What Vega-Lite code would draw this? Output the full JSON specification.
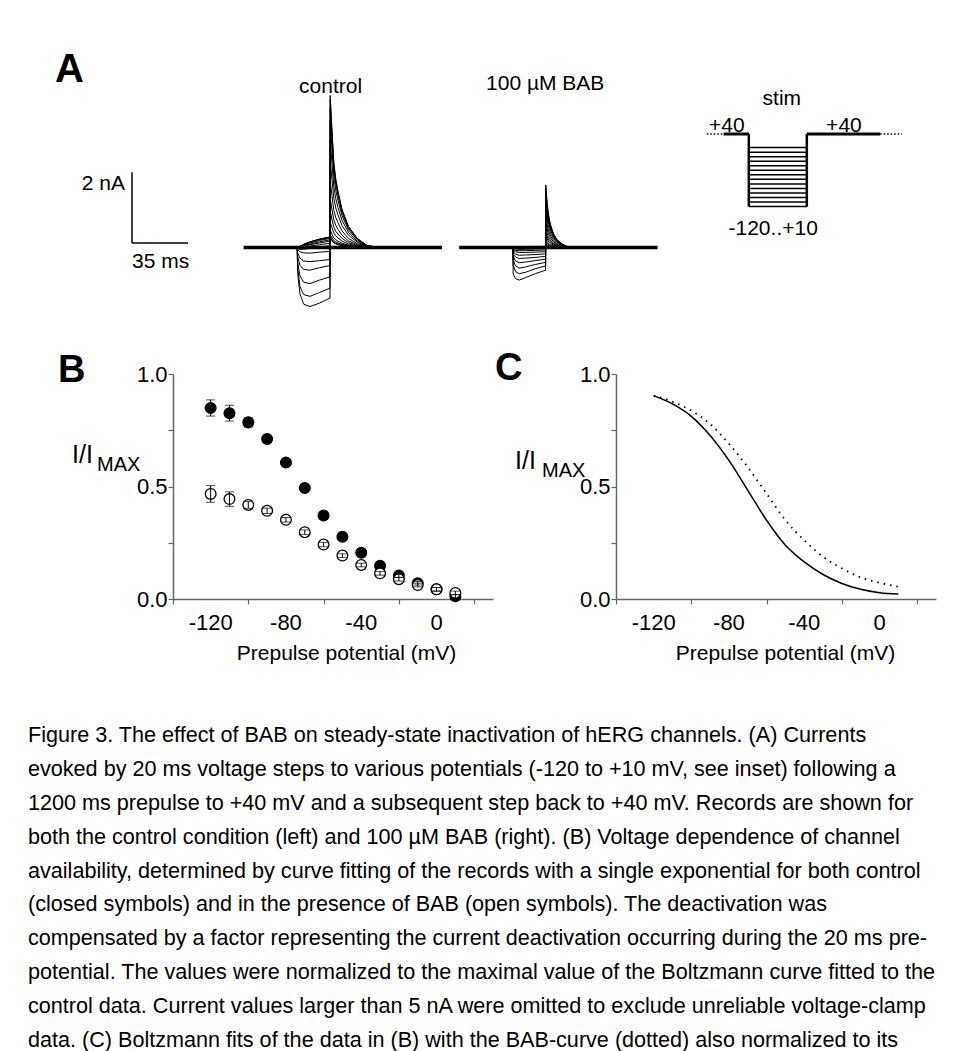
{
  "$schema": "https://vega.github.io/schema/vega-lite/v6.json",
  "background": "white",
  "padding": {"left": 28, "top": 7, "right": 4, "bottom": 4},
  "spacing": 41,
  "config": {
    "view": {"stroke": null},
    "font": "Liberation Sans",
    "axis": {"domainColor": "#666666", "tickColor": "#666666", "labelColor": "#000000", "titleColor": "#000000", "labelFont": "Liberation Sans", "titleFont": "Liberation Sans", "labelFontSize": 22, "titleFontSize": 21, "titleFontWeight": "normal", "grid": false, "domainWidth": 1.5, "tickWidth": 1.2, "tickSize": 5},
    "title": {"font": "Liberation Sans", "color": "#000000"}
  },
  "vconcat": [
    {
      "bounds": "flush",
      "spacing": 16.6,
      "hconcat": [
        {
          "width": 198.4, "height": 246,
          "data": {"values": [{}]},
          "layer": [
            {"mark": {"type": "rule", "strokeWidth": 1.5, "color": "black"},
             "encoding": {"x": {"datum": 65, "type": "quantitative", "scale": {"domain": [0, 124], "nice": false, "zero": false}, "axis": null},
                          "x2": {"datum": 100},
                          "y": {"datum": 0.13, "type": "quantitative", "scale": {"domain": [-0.155, 6.8], "nice": false, "zero": false}, "axis": null}}},
            {"mark": {"type": "rule", "strokeWidth": 1.5, "color": "black"},
             "encoding": {"x": {"datum": 65, "type": "quantitative"}, "y": {"datum": 0.13, "type": "quantitative"}, "y2": {"datum": 2.13}}},
            {"mark": {"type": "text", "align": "left", "baseline": "alphabetic", "fontSize": 40, "fontWeight": "bold", "color": "black"},
             "encoding": {"x": {"datum": 16.9, "type": "quantitative"}, "y": {"datum": 4.68, "type": "quantitative"}, "text": {"value": "A"}}},
            {"mark": {"type": "text", "align": "right", "baseline": "alphabetic", "fontSize": 21, "color": "black"},
             "encoding": {"x": {"datum": 60.6, "type": "quantitative"}, "y": {"datum": 1.62, "type": "quantitative"}, "text": {"value": "2 nA"}}},
            {"mark": {"type": "text", "align": "left", "baseline": "alphabetic", "fontSize": 21, "color": "black"},
             "encoding": {"x": {"datum": 65, "type": "quantitative"}, "y": {"datum": -0.58, "type": "quantitative"}, "text": {"value": "35 ms"}}}
          ]
        },
        {
          "width": 198.4, "height": 246,
          "layer": [
            {"data": {"values": [{"t": 0, "i": 0}, {"t": 124, "i": 0}]},
             "mark": {"type": "line", "strokeWidth": 3.5, "color": "black"},
             "encoding": {"x": {"field": "t", "type": "quantitative", "scale": {"domain": [0, 124], "nice": false, "zero": false}, "axis": null},
                          "y": {"field": "i", "type": "quantitative", "scale": {"domain": [-0.155, 6.8], "nice": false, "zero": false}, "axis": null}}},
            {"data": {"values": "v,t,i\n-120,33.5,0\n-120,33.75,-0.7\n-120,35.2,-1.3\n-120,37.5,-1.6\n-120,41.5,-1.67\n-120,47.5,-1.57\n-120,54,-1.43\n-120,54.1,4.3\n-120,54.5,3.96\n-120,55.2,3.35\n-120,56.4,2.41\n-120,57.6,1.94\n-120,59,1.59\n-120,61.5,1.08\n-120,65.5,0.6\n-120,71,0.26\n-120,77,0.06\n-120,84,0\n-110,33.5,0\n-110,33.75,-0.55\n-110,35.2,-1.1\n-110,37.5,-1.33\n-110,41.5,-1.38\n-110,47.5,-1.27\n-110,54,-1.15\n-110,54.1,4.18\n-110,54.5,3.85\n-110,55.2,3.26\n-110,56.4,2.34\n-110,57.6,1.88\n-110,59,1.55\n-110,61.5,1.05\n-110,65.5,0.59\n-110,71,0.25\n-110,77,0.06\n-110,84,0\n-100,33.5,0\n-100,33.75,-0.4\n-100,35.2,-0.8\n-100,37.5,-0.98\n-100,41.5,-1.02\n-100,47.5,-0.92\n-100,54,-0.83\n-100,54.1,3.95\n-100,54.5,3.63\n-100,55.2,3.08\n-100,56.4,2.21\n-100,57.6,1.78\n-100,59,1.46\n-100,61.5,0.99\n-100,65.5,0.55\n-100,71,0.24\n-100,77,0.06\n-100,84,0\n-90,33.5,0\n-90,33.75,-0.25\n-90,35.2,-0.5\n-90,37.5,-0.62\n-90,41.5,-0.64\n-90,47.5,-0.57\n-90,54,-0.51\n-90,54.1,3.59\n-90,54.5,3.3\n-90,55.2,2.8\n-90,56.4,2.01\n-90,57.6,1.62\n-90,59,1.33\n-90,61.5,0.9\n-90,65.5,0.5\n-90,71,0.22\n-90,77,0.05\n-90,84,0\n-80,33.5,0\n-80,33.75,-0.15\n-80,35.2,-0.3\n-80,37.5,-0.38\n-80,41.5,-0.4\n-80,47.5,-0.37\n-80,54,-0.34\n-80,54.1,3.06\n-80,54.5,2.82\n-80,55.2,2.39\n-80,56.4,1.71\n-80,57.6,1.38\n-80,59,1.13\n-80,61.5,0.77\n-80,65.5,0.43\n-80,71,0.18\n-80,77,0.05\n-80,84,0\n-70,33.5,0\n-70,33.75,-0.06\n-70,35.2,-0.12\n-70,37.5,-0.15\n-70,41.5,-0.16\n-70,47.5,-0.13\n-70,54,-0.11\n-70,54.1,2.48\n-70,54.5,2.28\n-70,55.2,1.93\n-70,56.4,1.39\n-70,57.6,1.12\n-70,59,0.92\n-70,61.5,0.62\n-70,65.5,0.35\n-70,71,0.15\n-70,77,0.04\n-70,84,0\n-60,33.5,0\n-60,33.75,-0.03\n-60,35.2,-0.05\n-60,37.5,-0.05\n-60,41.5,-0.02\n-60,47.5,0.02\n-60,54,0.05\n-60,54.1,1.88\n-60,54.5,1.73\n-60,55.2,1.47\n-60,56.4,1.05\n-60,57.6,0.85\n-60,59,0.7\n-60,61.5,0.47\n-60,65.5,0.26\n-60,71,0.11\n-60,77,0.03\n-60,84,0\n-50,33.5,0\n-50,33.75,-0.02\n-50,35.2,-0.02\n-50,37.5,0\n-50,41.5,0.04\n-50,47.5,0.08\n-50,54,0.12\n-50,54.1,1.39\n-50,54.5,1.28\n-50,55.2,1.08\n-50,56.4,0.78\n-50,57.6,0.63\n-50,59,0.51\n-50,61.5,0.35\n-50,65.5,0.19\n-50,71,0.08\n-50,77,0.02\n-50,84,0\n-40,33.5,0\n-40,33.75,-0.02\n-40,35.2,0\n-40,37.5,0.03\n-40,41.5,0.08\n-40,47.5,0.13\n-40,54,0.18\n-40,54.1,1.03\n-40,54.5,0.95\n-40,55.2,0.8\n-40,56.4,0.58\n-40,57.6,0.46\n-40,59,0.38\n-40,61.5,0.26\n-40,65.5,0.14\n-40,71,0.06\n-40,77,0.02\n-40,84,0\n-30,33.5,0\n-30,33.75,-0.02\n-30,35.2,0.01\n-30,37.5,0.05\n-30,41.5,0.1\n-30,47.5,0.16\n-30,54,0.22\n-30,54.1,0.73\n-30,54.5,0.67\n-30,55.2,0.57\n-30,56.4,0.41\n-30,57.6,0.33\n-30,59,0.27\n-30,61.5,0.18\n-30,65.5,0.1\n-30,71,0.04\n-30,77,0.01\n-30,84,0\n-20,33.5,0\n-20,33.75,-0.02\n-20,35.2,0.02\n-20,37.5,0.07\n-20,41.5,0.13\n-20,47.5,0.2\n-20,54,0.26\n-20,54.1,0.49\n-20,54.5,0.45\n-20,55.2,0.38\n-20,56.4,0.27\n-20,57.6,0.22\n-20,59,0.18\n-20,61.5,0.12\n-20,65.5,0.07\n-20,71,0.03\n-20,77,0.01\n-20,84,0\n-10,33.5,0\n-10,33.75,-0.02\n-10,35.2,0.03\n-10,37.5,0.08\n-10,41.5,0.15\n-10,47.5,0.23\n-10,54,0.29\n-10,54.1,0.36\n-10,54.5,0.33\n-10,55.2,0.28\n-10,56.4,0.2\n-10,57.6,0.16\n-10,59,0.13\n-10,61.5,0.09\n-10,65.5,0.05\n-10,71,0.02\n-10,77,0.01\n-10,84,0\n0,33.5,0\n0,33.75,-0.02\n0,35.2,0.03\n0,37.5,0.09\n0,41.5,0.16\n0,47.5,0.24\n0,54,0.3\n0,54.1,0.32\n0,54.5,0.28\n0,55.2,0.22\n0,56.4,0.16\n0,57.6,0.12\n0,59,0.1\n0,61.5,0.07\n0,65.5,0.04\n0,71,0.02\n0,77,0\n0,84,0\n10,33.5,0\n10,33.75,-0.02\n10,35.2,0.03\n10,37.5,0.09\n10,41.5,0.16\n10,47.5,0.23\n10,54,0.29\n10,54.1,0.3\n10,54.5,0.25\n10,55.2,0.19\n10,56.4,0.13\n10,57.6,0.1\n10,59,0.08\n10,61.5,0.05\n10,65.5,0.03\n10,71,0.01\n10,77,0\n10,84,0", "format": {"type": "csv", "parse": {"v": "number", "t": "number", "i": "number"}}},
             "mark": {"type": "line", "strokeWidth": 1, "color": "black"},
             "encoding": {"x": {"field": "t", "type": "quantitative"}, "y": {"field": "i", "type": "quantitative"}, "detail": {"field": "v", "type": "nominal"}}},
            {"data": {"values": [{}]},
             "mark": {"type": "text", "align": "center", "baseline": "alphabetic", "fontSize": 21, "color": "black"},
             "encoding": {"x": {"datum": 54.4, "type": "quantitative"}, "y": {"datum": 4.37, "type": "quantitative"}, "text": {"value": "control"}}}
          ]
        },
        {
          "width": 198.4, "height": 246,
          "layer": [
            {"data": {"values": [{"t": 0, "i": 0}, {"t": 124, "i": 0}]},
             "mark": {"type": "line", "strokeWidth": 3.5, "color": "black"},
             "encoding": {"x": {"field": "t", "type": "quantitative", "scale": {"domain": [0, 124], "nice": false, "zero": false}, "axis": null},
                          "y": {"field": "i", "type": "quantitative", "scale": {"domain": [-0.155, 6.8], "nice": false, "zero": false}, "axis": null}}},
            {"data": {"values": "v,t,i\n-120,33.5,0\n-120,33.75,-0.75\n-120,35.2,-0.88\n-120,37.5,-0.92\n-120,41.5,-0.85\n-120,47.5,-0.74\n-120,54,-0.64\n-120,54.1,1.77\n-120,54.7,1.42\n-120,55.5,1.03\n-120,56.5,0.76\n-120,57.5,0.58\n-120,59,0.39\n-120,61,0.23\n-120,64,0.11\n-120,67,0.04\n-120,72,0\n-110,33.5,0\n-110,33.75,-0.5\n-110,35.2,-0.68\n-110,37.5,-0.74\n-110,41.5,-0.7\n-110,47.5,-0.6\n-110,54,-0.52\n-110,54.1,1.68\n-110,54.7,1.34\n-110,55.5,0.97\n-110,56.5,0.72\n-110,57.5,0.55\n-110,59,0.37\n-110,61,0.22\n-110,64,0.1\n-110,67,0.03\n-110,72,0\n-100,33.5,0\n-100,33.75,-0.35\n-100,35.2,-0.52\n-100,37.5,-0.58\n-100,41.5,-0.55\n-100,47.5,-0.48\n-100,54,-0.42\n-100,54.1,1.58\n-100,54.7,1.26\n-100,55.5,0.92\n-100,56.5,0.68\n-100,57.5,0.52\n-100,59,0.35\n-100,61,0.21\n-100,64,0.09\n-100,67,0.03\n-100,72,0\n-90,33.5,0\n-90,33.75,-0.25\n-90,35.2,-0.38\n-90,37.5,-0.43\n-90,41.5,-0.41\n-90,47.5,-0.37\n-90,54,-0.33\n-90,54.1,1.48\n-90,54.7,1.18\n-90,55.5,0.86\n-90,56.5,0.64\n-90,57.5,0.49\n-90,59,0.33\n-90,61,0.19\n-90,64,0.09\n-90,67,0.03\n-90,72,0\n-80,33.5,0\n-80,33.75,-0.18\n-80,35.2,-0.27\n-80,37.5,-0.31\n-80,41.5,-0.3\n-80,47.5,-0.28\n-80,54,-0.25\n-80,54.1,1.33\n-80,54.7,1.06\n-80,55.5,0.77\n-80,56.5,0.57\n-80,57.5,0.44\n-80,59,0.29\n-80,61,0.17\n-80,64,0.08\n-80,67,0.03\n-80,72,0\n-70,33.5,0\n-70,33.75,-0.12\n-70,35.2,-0.19\n-70,37.5,-0.22\n-70,41.5,-0.21\n-70,47.5,-0.2\n-70,54,-0.18\n-70,54.1,1.12\n-70,54.7,0.9\n-70,55.5,0.65\n-70,56.5,0.48\n-70,57.5,0.37\n-70,59,0.25\n-70,61,0.15\n-70,64,0.07\n-70,67,0.02\n-70,72,0\n-60,33.5,0\n-60,33.75,-0.08\n-60,35.2,-0.12\n-60,37.5,-0.14\n-60,41.5,-0.14\n-60,47.5,-0.13\n-60,54,-0.12\n-60,54.1,0.91\n-60,54.7,0.73\n-60,55.5,0.53\n-60,56.5,0.39\n-60,57.5,0.3\n-60,59,0.2\n-60,61,0.12\n-60,64,0.05\n-60,67,0.02\n-60,72,0\n-50,33.5,0\n-50,33.75,-0.05\n-50,35.2,-0.08\n-50,37.5,-0.09\n-50,41.5,-0.09\n-50,47.5,-0.08\n-50,54,-0.07\n-50,54.1,0.72\n-50,54.7,0.58\n-50,55.5,0.42\n-50,56.5,0.31\n-50,57.5,0.24\n-50,59,0.16\n-50,61,0.09\n-50,64,0.04\n-50,67,0.01\n-50,72,0\n-40,33.5,0\n-40,33.75,-0.03\n-40,35.2,-0.04\n-40,37.5,-0.05\n-40,41.5,-0.05\n-40,47.5,-0.04\n-40,54,-0.03\n-40,54.1,0.56\n-40,54.7,0.45\n-40,55.5,0.32\n-40,56.5,0.24\n-40,57.5,0.18\n-40,59,0.12\n-40,61,0.07\n-40,64,0.03\n-40,67,0.01\n-40,72,0\n-30,33.5,0\n-30,33.75,-0.02\n-30,35.2,-0.02\n-30,37.5,-0.02\n-30,41.5,-0.01\n-30,47.5,0\n-30,54,0\n-30,54.1,0.42\n-30,54.7,0.34\n-30,55.5,0.24\n-30,56.5,0.18\n-30,57.5,0.14\n-30,59,0.09\n-30,61,0.05\n-30,64,0.03\n-30,67,0.01\n-30,72,0\n-20,33.5,0\n-20,33.75,-0.02\n-20,35.2,-0.01\n-20,37.5,0\n-20,41.5,0.01\n-20,47.5,0.02\n-20,54,0.02\n-20,54.1,0.32\n-20,54.7,0.26\n-20,55.5,0.19\n-20,56.5,0.14\n-20,57.5,0.11\n-20,59,0.07\n-20,61,0.04\n-20,64,0.02\n-20,67,0.01\n-20,72,0\n-10,33.5,0\n-10,33.75,-0.02\n-10,35.2,-0.01\n-10,37.5,0\n-10,41.5,0.01\n-10,47.5,0.02\n-10,54,0.03\n-10,54.1,0.22\n-10,54.7,0.18\n-10,55.5,0.13\n-10,56.5,0.09\n-10,57.5,0.07\n-10,59,0.05\n-10,61,0.03\n-10,64,0.01\n-10,67,0\n-10,72,0\n0,33.5,0\n0,33.75,-0.02\n0,35.2,-0.01\n0,37.5,0.01\n0,41.5,0.02\n0,47.5,0.03\n0,54,0.03\n0,54.1,0.15\n0,54.7,0.12\n0,55.5,0.09\n0,56.5,0.06\n0,57.5,0.05\n0,59,0.03\n0,61,0.02\n0,64,0.01\n0,67,0\n0,72,0\n10,33.5,0\n10,33.75,-0.02\n10,35.2,-0.01\n10,37.5,0.01\n10,41.5,0.02\n10,47.5,0.03\n10,54,0.03\n10,54.1,0.1\n10,54.7,0.08\n10,55.5,0.06\n10,56.5,0.04\n10,57.5,0.03\n10,59,0.02\n10,61,0.01\n10,64,0.01\n10,67,0\n10,72,0", "format": {"type": "csv", "parse": {"v": "number", "t": "number", "i": "number"}}},
             "mark": {"type": "line", "strokeWidth": 1, "color": "black"},
             "encoding": {"x": {"field": "t", "type": "quantitative"}, "y": {"field": "i", "type": "quantitative"}, "detail": {"field": "v", "type": "nominal"}}},
            {"data": {"values": [{}]},
             "mark": {"type": "text", "align": "center", "baseline": "alphabetic", "fontSize": 21, "color": "black"},
             "encoding": {"x": {"datum": 53.75, "type": "quantitative"}, "y": {"datum": 4.45, "type": "quantitative"}, "text": {"value": "100 µM BAB"}}}
          ]
        },
        {
          "width": 261, "height": 246,
          "layer": [
            {"data": {"values": [{"a": -14.5, "b": -8.7}, {"a": 45.3, "b": 52.8}]},
             "mark": {"type": "rule", "strokeDash": [1.5, 2], "strokeWidth": 1.5, "color": "black"},
             "encoding": {"x": {"field": "a", "type": "quantitative", "scale": {"domain": [-25.52, 64.48], "nice": false, "zero": false}, "axis": null},
                          "x2": {"field": "b"},
                          "y": {"datum": 40, "type": "quantitative", "scale": {"domain": [-222.4, 320], "nice": false, "zero": false}, "axis": null}}},
            {"data": {"values": [{"a": -8.7, "b": 0}, {"a": 20, "b": 45.3}]},
             "mark": {"type": "rule", "strokeWidth": 3, "color": "black"},
             "encoding": {"x": {"field": "a", "type": "quantitative"}, "x2": {"field": "b"}, "y": {"datum": 40, "type": "quantitative"}}},
            {"data": {"values": [{"v": -120}, {"v": -110}, {"v": -100}, {"v": -90}, {"v": -80}, {"v": -70}, {"v": -60}, {"v": -50}, {"v": -40}, {"v": -30}, {"v": -20}, {"v": -10}, {"v": 0}, {"v": 10}]},
             "mark": {"type": "rule", "strokeWidth": 1.5, "color": "black"},
             "encoding": {"x": {"datum": 0, "type": "quantitative"}, "x2": {"datum": 20}, "y": {"field": "v", "type": "quantitative"}}},
            {"data": {"values": [{"a": 0}, {"a": 20}]},
             "mark": {"type": "rule", "strokeWidth": 2.5, "color": "black"},
             "encoding": {"x": {"field": "a", "type": "quantitative"}, "y": {"datum": -120, "type": "quantitative"}, "y2": {"datum": 40}}},
            {"data": {"values": [{}]},
             "mark": {"type": "text", "align": "center", "baseline": "alphabetic", "fontSize": 21, "color": "black"},
             "encoding": {"x": {"datum": 11.4, "type": "quantitative"}, "y": {"datum": 104, "type": "quantitative"}, "text": {"value": "stim"}}},
            {"data": {"values": [{}]},
             "mark": {"type": "text", "align": "center", "baseline": "alphabetic", "fontSize": 21, "color": "black"},
             "encoding": {"x": {"datum": -7.6, "type": "quantitative"}, "y": {"datum": 45, "type": "quantitative"}, "text": {"value": "+40"}}},
            {"data": {"values": [{}]},
             "mark": {"type": "text", "align": "center", "baseline": "alphabetic", "fontSize": 21, "color": "black"},
             "encoding": {"x": {"datum": 32.8, "type": "quantitative"}, "y": {"datum": 45, "type": "quantitative"}, "text": {"value": "+40"}}},
            {"data": {"values": [{}]},
             "mark": {"type": "text", "align": "center", "baseline": "alphabetic", "fontSize": 21, "color": "black"},
             "encoding": {"x": {"datum": 8.4, "type": "quantitative"}, "y": {"datum": -182.7, "type": "quantitative"}, "text": {"value": "-120..+10"}}}
          ]
        }
      ]
    },
    {
      "bounds": "flush",
      "spacing": 123,
      "hconcat": [
        {
          "width": 22, "height": 225,
          "data": {"values": [{}]},
          "mark": {"type": "text"},
          "encoding": {"text": {"value": ""}}
        },
        {
          "width": 320, "height": 225,
          "layer": [
            {"data": {"values": [
              {"v": -120, "g": "control", "m": 0.849, "e": 0.036}, {"v": -110, "g": "control", "m": 0.826, "e": 0.035}, {"v": -100, "g": "control", "m": 0.785, "e": 0.02},
              {"v": -90, "g": "control", "m": 0.711, "e": 0.012}, {"v": -80, "g": "control", "m": 0.607, "e": 0.01}, {"v": -70, "g": "control", "m": 0.493, "e": 0.012},
              {"v": -60, "g": "control", "m": 0.371, "e": 0.012}, {"v": -50, "g": "control", "m": 0.277, "e": 0.01}, {"v": -40, "g": "control", "m": 0.206, "e": 0.01},
              {"v": -30, "g": "control", "m": 0.148, "e": 0.008}, {"v": -20, "g": "control", "m": 0.104, "e": 0.008}, {"v": -10, "g": "control", "m": 0.07, "e": 0.008},
              {"v": 0, "g": "control", "m": 0.043, "e": 0.008}, {"v": 10, "g": "control", "m": 0.012, "e": 0.008},
              {"v": -120, "g": "BAB", "m": 0.467, "e": 0.037}, {"v": -110, "g": "BAB", "m": 0.444, "e": 0.032}, {"v": -100, "g": "BAB", "m": 0.418, "e": 0.015},
              {"v": -90, "g": "BAB", "m": 0.392, "e": 0.012}, {"v": -80, "g": "BAB", "m": 0.352, "e": 0.01}, {"v": -70, "g": "BAB", "m": 0.297, "e": 0.01},
              {"v": -60, "g": "BAB", "m": 0.242, "e": 0.01}, {"v": -50, "g": "BAB", "m": 0.193, "e": 0.008}, {"v": -40, "g": "BAB", "m": 0.151, "e": 0.008},
              {"v": -30, "g": "BAB", "m": 0.114, "e": 0.008}, {"v": -20, "g": "BAB", "m": 0.088, "e": 0.008}, {"v": -10, "g": "BAB", "m": 0.062, "e": 0.008},
              {"v": 0, "g": "BAB", "m": 0.043, "e": 0.008}, {"v": 10, "g": "BAB", "m": 0.027, "e": 0.008}
            ]},
             "layer": [
               {"mark": {"type": "point", "shape": "circle", "filled": true, "size": 115, "stroke": "black", "strokeWidth": 1.3, "opacity": 1},
                "encoding": {
                  "x": {"field": "v", "type": "quantitative", "scale": {"domain": [-140, 30], "nice": false, "zero": false},
                        "axis": {"values": [-140, -130, -120, -110, -100, -90, -80, -70, -60, -50, -40, -30, -20, -10, 0, 10, 20, 30], "labels": false, "title": "Prepulse potential (mV)", "titlePadding": 38, "titleX": 173}},
                  "y": {"field": "m", "type": "quantitative", "scale": {"domain": [0, 1], "nice": false, "zero": false},
                        "axis": {"values": [0, 0.25, 0.5, 0.75, 1], "labelExpr": "datum.value === 0.25 || datum.value === 0.75 ? '' : format(datum.value, '.1f')", "labelOverlap": false, "labelFlush": false, "title": null, "labelPadding": 1}},
                  "fill": {"field": "g", "type": "nominal", "scale": {"domain": ["control", "BAB"], "range": ["#000000", "#ffffff"]}, "legend": null}}},
               {"mark": {"type": "errorbar", "color": "black", "thickness": 1, "ticks": {"size": 9, "color": "black", "thickness": 1}},
                "encoding": {"x": {"field": "v", "type": "quantitative"}, "y": {"field": "m", "type": "quantitative"}, "yError": {"field": "e"}}}
             ]},
            {"data": {"values": [{"v": -120}, {"v": -80}, {"v": -40}, {"v": 0}]},
             "mark": {"type": "text", "align": "center", "baseline": "top", "fontSize": 22, "dy": 14, "color": "black"},
             "encoding": {"x": {"field": "v", "type": "quantitative"}, "y": {"datum": 0, "type": "quantitative"}, "text": {"field": "v", "type": "nominal"}}},
            {"data": {"values": [{}]},
             "mark": {"type": "text", "align": "left", "baseline": "alphabetic", "fontSize": 38, "fontWeight": "bold", "dx": -115, "dy": 8, "color": "black"},
             "encoding": {"x": {"datum": -140, "type": "quantitative"}, "y": {"datum": 1, "type": "quantitative"}, "text": {"value": "B"}}},
            {"data": {"values": [{}]},
             "mark": {"type": "text", "align": "left", "baseline": "alphabetic", "fontSize": 25, "dx": -101, "color": "black"},
             "encoding": {"x": {"datum": -140, "type": "quantitative"}, "y": {"datum": 0.604, "type": "quantitative"}, "text": {"value": "I/I"}}},
            {"data": {"values": [{}]},
             "mark": {"type": "text", "align": "left", "baseline": "alphabetic", "fontSize": 20, "dx": -76, "dy": 8, "color": "black"},
             "encoding": {"x": {"datum": -140, "type": "quantitative"}, "y": {"datum": 0.604, "type": "quantitative"}, "text": {"value": "MAX"}}}
          ]
        },
        {
          "width": 320, "height": 225,
          "layer": [
            {"data": {"values": [
              {"v": -120, "g": "control", "r": 0.904}, {"v": -110, "g": "control", "r": 0.867}, {"v": -100, "g": "control", "r": 0.812}, {"v": -90, "g": "control", "r": 0.727},
              {"v": -80, "g": "control", "r": 0.616}, {"v": -70, "g": "control", "r": 0.483}, {"v": -60, "g": "control", "r": 0.35}, {"v": -50, "g": "control", "r": 0.239},
              {"v": -40, "g": "control", "r": 0.165}, {"v": -30, "g": "control", "r": 0.109}, {"v": -20, "g": "control", "r": 0.069}, {"v": -10, "g": "control", "r": 0.043},
              {"v": 0, "g": "control", "r": 0.028}, {"v": 10, "g": "control", "r": 0.022},
              {"v": -120, "g": "BAB", "r": 0.904}, {"v": -110, "g": "BAB", "r": 0.877}, {"v": -100, "g": "BAB", "r": 0.837}, {"v": -90, "g": "BAB", "r": 0.778},
              {"v": -80, "g": "BAB", "r": 0.69}, {"v": -70, "g": "BAB", "r": 0.586}, {"v": -60, "g": "BAB", "r": 0.468}, {"v": -50, "g": "BAB", "r": 0.35},
              {"v": -40, "g": "BAB", "r": 0.261}, {"v": -30, "g": "BAB", "r": 0.188}, {"v": -20, "g": "BAB", "r": 0.136}, {"v": -10, "g": "BAB", "r": 0.096},
              {"v": 0, "g": "BAB", "r": 0.072}, {"v": 10, "g": "BAB", "r": 0.055}
            ]},
             "layer": [
               {"transform": [{"filter": "datum.g === 'control'"}],
                "mark": {"type": "line", "interpolate": "monotone", "strokeWidth": 1.5, "color": "black"},
                "encoding": {
                  "x": {"field": "v", "type": "quantitative", "scale": {"domain": [-140, 30], "nice": false, "zero": false},
                        "axis": {"values": [-140, -130, -120, -110, -100, -90, -80, -70, -60, -50, -40, -30, -20, -10, 0, 10, 20, 30], "labels": false, "title": "Prepulse potential (mV)", "titlePadding": 38, "titleX": 169}},
                  "y": {"field": "r", "type": "quantitative", "scale": {"domain": [0, 1], "nice": false, "zero": false},
                        "axis": {"values": [0, 0.25, 0.5, 0.75, 1], "labelExpr": "datum.value === 0.25 || datum.value === 0.75 ? '' : format(datum.value, '.1f')", "labelOverlap": false, "labelFlush": false, "title": null, "labelPadding": 1}}}},
               {"transform": [{"filter": "datum.g === 'BAB'"}],
                "mark": {"type": "line", "interpolate": "monotone", "strokeWidth": 1.8, "strokeDash": [1.5, 5], "color": "black"},
                "encoding": {"x": {"field": "v", "type": "quantitative"}, "y": {"field": "r", "type": "quantitative"}}}
             ]},
            {"data": {"values": [{"v": -120}, {"v": -80}, {"v": -40}, {"v": 0}]},
             "mark": {"type": "text", "align": "center", "baseline": "top", "fontSize": 22, "dy": 14, "color": "black"},
             "encoding": {"x": {"field": "v", "type": "quantitative"}, "y": {"datum": 0, "type": "quantitative"}, "text": {"field": "v", "type": "nominal"}}},
            {"data": {"values": [{}]},
             "mark": {"type": "text", "align": "left", "baseline": "alphabetic", "fontSize": 38, "fontWeight": "bold", "dx": -121, "dy": 6, "color": "black"},
             "encoding": {"x": {"datum": -140, "type": "quantitative"}, "y": {"datum": 1, "type": "quantitative"}, "text": {"value": "C"}}},
            {"data": {"values": [{}]},
             "mark": {"type": "text", "align": "left", "baseline": "alphabetic", "fontSize": 25, "dx": -101, "color": "black"},
             "encoding": {"x": {"datum": -140, "type": "quantitative"}, "y": {"datum": 0.58, "type": "quantitative"}, "text": {"value": "I/I"}}},
            {"data": {"values": [{}]},
             "mark": {"type": "text", "align": "left", "baseline": "alphabetic", "fontSize": 20, "dx": -74, "dy": 8, "color": "black"},
             "encoding": {"x": {"datum": -140, "type": "quantitative"}, "y": {"datum": 0.58, "type": "quantitative"}, "text": {"value": "MAX"}}}
          ]
        }
      ]
    },
    {
      "width": 912, "height": 367,
      "data": {"values": [
        {"ln": 1, "txt": "Figure 3. The effect of BAB on steady-state inactivation of hERG channels. (A) Currents"},
        {"ln": 2, "txt": "evoked by 20 ms voltage steps to various potentials (-120 to +10 mV, see inset) following a"},
        {"ln": 3, "txt": "1200 ms prepulse to +40 mV and a subsequent step back to +40 mV. Records are shown for"},
        {"ln": 4, "txt": "both the control condition (left) and 100 µM BAB (right). (B) Voltage dependence of channel"},
        {"ln": 5, "txt": "availability, determined by curve fitting of the records with a single exponential for both control"},
        {"ln": 6, "txt": "(closed symbols) and in the presence of BAB (open symbols). The deactivation was"},
        {"ln": 7, "txt": "compensated by a factor representing the current deactivation occurring during the 20 ms pre-"},
        {"ln": 8, "txt": "potential. The values were normalized to the maximal value of the Boltzmann curve fitted to the"},
        {"ln": 9, "txt": "control data. Current values larger than 5 nA were omitted to exclude unreliable voltage-clamp"},
        {"ln": 10, "txt": "data. (C) Boltzmann fits of the data in (B) with the BAB-curve (dotted) also normalized to its"}
      ]},
      "mark": {"type": "text", "align": "left", "baseline": "middle", "fontSize": 21.6, "color": "black"},
      "encoding": {
        "y": {"field": "ln", "type": "ordinal", "scale": {"type": "band", "paddingInner": 0, "paddingOuter": 0.413}, "axis": null},
        "x": {"value": 0},
        "text": {"field": "txt"}
      }
    }
  ]
}
